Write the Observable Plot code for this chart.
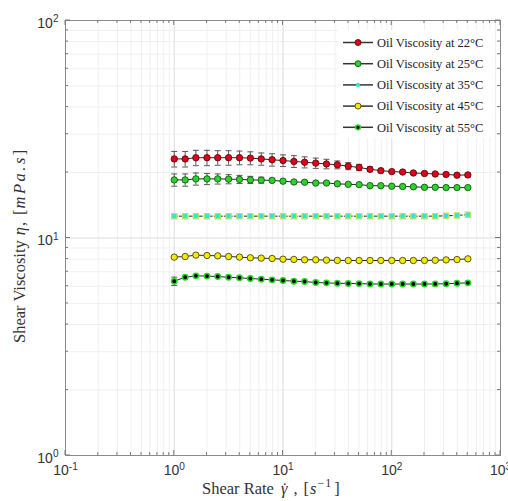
<!DOCTYPE html>
<html><head><meta charset="utf-8">
<script src="https://cdn.jsdelivr.net/npm/d3@7"></script>
<script src="https://cdn.jsdelivr.net/npm/@observablehq/plot@0.6"></script>
<style>body{margin:0;background:#fff} svg{display:block}</style>
</head><body><div id="chart"></div>
<script>
const shearRate = [1, 1.26, 1.58, 2, 2.51, 3.16, 3.98, 5.01, 6.31, 7.94, 10, 12.6, 15.8, 20, 25.1, 31.6, 39.8, 50.1, 63.1, 79.4, 100, 126, 158, 200, 251, 316, 398, 501];

const visc22 = [23.1, 23.1, 23.4, 23.4, 23.4, 23.4, 23.4, 23.3, 23.1, 22.9, 22.7, 22.5, 22.3, 22.1, 21.9, 21.7, 21.4, 21.1, 20.7, 20.4, 20.2, 20.1, 19.9, 19.8, 19.7, 19.6, 19.45, 19.5];
const err22  = [1.9, 1.9, 1.9, 1.9, 1.8, 1.8, 1.7, 1.6, 1.5, 1.5, 1.4, 1.4, 1.3, 1.2, 1.1, 0.9, 0.8, 0.7, 0.5, 0.3, 0.2, 0.2, 0.15, 0.1, 0.1, 0.1, 0.1, 0.1];

const visc25 = [18.5, 18.5, 18.7, 18.7, 18.7, 18.65, 18.6, 18.5, 18.45, 18.4, 18.25, 18.1, 18.05, 17.9, 17.9, 17.75, 17.65, 17.6, 17.4, 17.4, 17.3, 17.25, 17.2, 17.1, 17.1, 17.05, 17.05, 17.05];
const err25  = [1.2, 1.2, 1.2, 1.1, 1.0, 0.9, 0.8, 0.7, 0.6, 0.4, 0.3, 0.2, 0.2, 0.1, 0.1, 0.1, 0.1, 0.1, 0.05, 0.05, 0.05, 0.05, 0.05, 0.05, 0.05, 0.05, 0.05, 0.05];

const visc35 = [12.6, 12.6, 12.6, 12.6, 12.6, 12.6, 12.6, 12.6, 12.6, 12.6, 12.6, 12.6, 12.6, 12.6, 12.6, 12.6, 12.6, 12.6, 12.6, 12.6, 12.6, 12.6, 12.6, 12.6, 12.6, 12.65, 12.7, 12.8];
const err35  = [0.05, 0.05, 0.05, 0.05, 0.05, 0.05, 0.05, 0.05, 0.05, 0.05, 0.05, 0.05, 0.05, 0.05, 0.05, 0.05, 0.05, 0.05, 0.05, 0.05, 0.05, 0.05, 0.05, 0.05, 0.05, 0.05, 0.05, 0.05];

const visc45 = [8.17, 8.22, 8.34, 8.31, 8.28, 8.22, 8.17, 8.11, 8.08, 8.05, 7.99, 7.97, 7.94, 7.94, 7.91, 7.89, 7.88, 7.88, 7.88, 7.88, 7.88, 7.88, 7.88, 7.89, 7.9, 7.93, 7.96, 8.02];
const err45  = [0.1, 0.05, 0.05, 0.05, 0.05, 0.05, 0.05, 0.05, 0.05, 0.05, 0.05, 0.05, 0.05, 0.05, 0.05, 0.05, 0.05, 0.05, 0.05, 0.05, 0.05, 0.05, 0.05, 0.05, 0.05, 0.05, 0.05, 0.05];

const visc55 = [6.33, 6.6, 6.7, 6.68, 6.65, 6.6, 6.56, 6.51, 6.47, 6.42, 6.38, 6.33, 6.31, 6.24, 6.22, 6.19, 6.18, 6.17, 6.15, 6.14, 6.14, 6.14, 6.14, 6.14, 6.15, 6.16, 6.19, 6.22];
const err55  = [0.28, 0.05, 0.05, 0.05, 0.05, 0.05, 0.05, 0.05, 0.05, 0.05, 0.05, 0.05, 0.05, 0.05, 0.05, 0.05, 0.05, 0.05, 0.05, 0.05, 0.05, 0.05, 0.05, 0.05, 0.05, 0.05, 0.05, 0.05];

const seriesNames = ["Oil Viscosity at 22°C", "Oil Viscosity at 25°C", "Oil Viscosity at 35°C", "Oil Viscosity at 45°C", "Oil Viscosity at 55°C"];
const majorX = [0.1, 1, 10, 100, 1000];
const majorY = [1, 10, 100];

const styles = [
  {fill: "#e3001b", stroke: "#5c0a0a", symbol: "circle", r: 3.2, sw: 0.9, dash: null, lr: 3},
  {fill: "#2fd12f", stroke: "#0f5a0f", symbol: "circle", r: 3.2, sw: 0.9, dash: null, lr: 3},
  {fill: "#33e6cc", stroke: "#c2e266", symbol: "square", r: 3.0, sw: 1.2, dash: "3,2", lr: 2.2},
  {fill: "#f4ea00", stroke: "#4a4a10", symbol: "circle", r: 3.2, sw: 0.9, dash: null, lr: 3},
  {fill: "#050505", stroke: "#2bd42b", symbol: "circle", r: 2.7, sw: 1.5, dash: null, lr: 2.4}
];
const values = [visc22, visc25, visc35, visc45, visc55];
const errors = [err22, err25, err35, err45, err55];

const capSymbol = {draw(ctx, size) { ctx.moveTo(-3, 0); ctx.lineTo(3, 0); }};

const marks = [];
seriesNames.forEach((name, si) => {
  const st = styles[si];
  const rows = shearRate.map((x, i) => ({series: name, x, y: values[si][i], e: errors[si][i]}));
  const errRows = rows.filter(d => d.e >= 0.1);
  marks.push(
    Plot.ruleX(errRows, {x: "x", y1: d => d.y - d.e, y2: d => d.y + d.e, stroke: "#5a5a5a", strokeWidth: 1}),
    Plot.dot(errRows, {x: "x", y: d => d.y - d.e, symbol: capSymbol, fill: "none", stroke: "#5a5a5a", strokeWidth: 1}),
    Plot.dot(errRows, {x: "x", y: d => d.y + d.e, symbol: capSymbol, fill: "none", stroke: "#5a5a5a", strokeWidth: 1}),
    Plot.line(rows, {x: "x", y: "y", stroke: "#262626", strokeWidth: 1, strokeDasharray: st.dash}),
    Plot.dot(rows, {x: "x", y: "y", symbol: st.symbol, r: st.r, fill: st.fill, stroke: st.stroke, strokeWidth: st.sw})
  );
});

const gridXValues = d3.scaleLog().domain([0.1, 1000]).ticks();
const gridYValues = d3.scaleLog().domain([1, 100]).ticks();
const expFormat = d => "10^" + Math.round(Math.log10(d));

const plot = Plot.plot({
  width: 508, height: 501,
  marginLeft: 65, marginRight: 8, marginTop: 20, marginBottom: 46,
  style: {fontFamily: "'Liberation Sans', Arial, sans-serif", fontSize: "14px", color: "#333", background: "#fff"},
  x: {type: "log", domain: [0.1, 1000], label: null},
  y: {type: "log", domain: [1, 100], label: null},
  marks: [
    Plot.gridX(gridXValues, {stroke: "#f0f0f0", strokeOpacity: 1}),
    Plot.gridY(gridYValues, {stroke: "#f0f0f0", strokeOpacity: 1}),
    Plot.gridX(majorX, {stroke: "#e2e2e2", strokeOpacity: 1}),
    Plot.gridY(majorY, {stroke: "#e2e2e2", strokeOpacity: 1}),
    Plot.axisX(majorX, {tickSize: 0, tickPadding: 10, tickFormat: expFormat, fill: "#333"}),
    Plot.axisY(majorY, {tickSize: 0, tickPadding: 7, tickFormat: expFormat, dy: 3, fill: "#333"}),
    ...marks,
    Plot.frame({stroke: "#8a8a8a"})
  ]
});

const ns = "http://www.w3.org/2000/svg";
plot.querySelectorAll("text").forEach(t => {
  const s = t.textContent;
  if (!s.includes("^")) return;
  const [base, exp] = s.split("^");
  t.textContent = "";
  const a = document.createElementNS(ns, "tspan"); a.textContent = base; t.appendChild(a);
  const b = document.createElementNS(ns, "tspan"); b.textContent = exp;
  b.setAttribute("dy", "-0.55em"); b.setAttribute("font-size", "0.72em"); t.appendChild(b);
});

const svg = d3.select(plot);
const sx = plot.scale("x"), sy = plot.scale("y");
const x0 = sx.apply(0.1), x1 = sx.apply(1000), y0 = sy.apply(1), y1 = sy.apply(100);
const tg = svg.append("g").attr("stroke", "#7a7a7a").attr("stroke-width", 1);
gridXValues.forEach(v => {
  const p = sx.apply(v), L = majorX.includes(v) ? 5 : 3;
  tg.append("line").attr("x1", p).attr("x2", p).attr("y1", y0).attr("y2", y0 - L);
  tg.append("line").attr("x1", p).attr("x2", p).attr("y1", y1).attr("y2", y1 + L);
});
gridYValues.forEach(v => {
  const p = sy.apply(v), L = majorY.includes(v) ? 5 : 3;
  tg.append("line").attr("y1", p).attr("y2", p).attr("x1", x0).attr("x2", x0 + L);
  tg.append("line").attr("y1", p).attr("y2", p).attr("x1", x1).attr("x2", x1 - L);
});

// Legend
const lg = svg.append("g");
lg.append("rect").attr("x", 338).attr("y", 30).attr("width", 156).attr("height", 108).attr("fill", "#fff");
seriesNames.forEach((name, i) => {
  const st = styles[i];
  const yy = 42.5 + i * 21.2;
  lg.append("line").attr("x1", 343).attr("x2", 373).attr("y1", yy).attr("y2", yy).attr("stroke", "#333").attr("stroke-width", 1.5);
  const c = lg.append("circle").attr("cx", 358).attr("cy", yy).attr("r", st.lr).attr("fill", st.fill);
  if (i !== 2) c.attr("stroke", st.stroke).attr("stroke-width", st.sw);
  lg.append("text").attr("x", 377).attr("y", yy).attr("dy", "0.35em").attr("text-anchor", "start")
    .attr("font-family", "'Liberation Serif', 'Times New Roman', serif").attr("font-size", 12.5)
    .attr("fill", "#222").text(name);
});

// Axis titles
const serif = "'Liberation Serif', 'Times New Roman', serif";
const xl = svg.append("text").attr("x", 202).attr("y", 494).attr("text-anchor", "start")
  .attr("font-family", serif).attr("font-size", 16.5).attr("fill", "#333");
xl.append("tspan").text("Shear Rate");
xl.append("tspan").attr("dx", 7).attr("font-style", "italic").text("γ");
xl.append("tspan").attr("dx", -5.5).text("˙");
xl.append("tspan").attr("dx", 6).text(",");
xl.append("tspan").attr("dx", 6).text("[");
xl.append("tspan").attr("dx", 1).attr("font-style", "italic").text("s");
xl.append("tspan").attr("dx", 1).attr("dy", -7).attr("font-size", 12).attr("letter-spacing", 1).text("−1");
xl.append("tspan").attr("dx", 2).attr("dy", 7).text("]");

const yl = svg.append("text").attr("transform", "translate(25,343) rotate(-90)").attr("text-anchor", "start")
  .attr("font-family", serif).attr("font-size", 16.5).attr("fill", "#333");
yl.append("tspan").text("Shear Viscosity");
yl.append("tspan").attr("dx", 5).attr("font-style", "italic").text("η");
yl.append("tspan").attr("dx", 1).text(",");
yl.append("tspan").attr("dx", 7).text("[");
yl.append("tspan").attr("dx", 1).attr("font-style", "italic").attr("letter-spacing", 2.5).text("mPa.s");
yl.append("tspan").attr("dx", 0).text("]");

document.getElementById("chart").appendChild(plot);
</script>
</body></html>
